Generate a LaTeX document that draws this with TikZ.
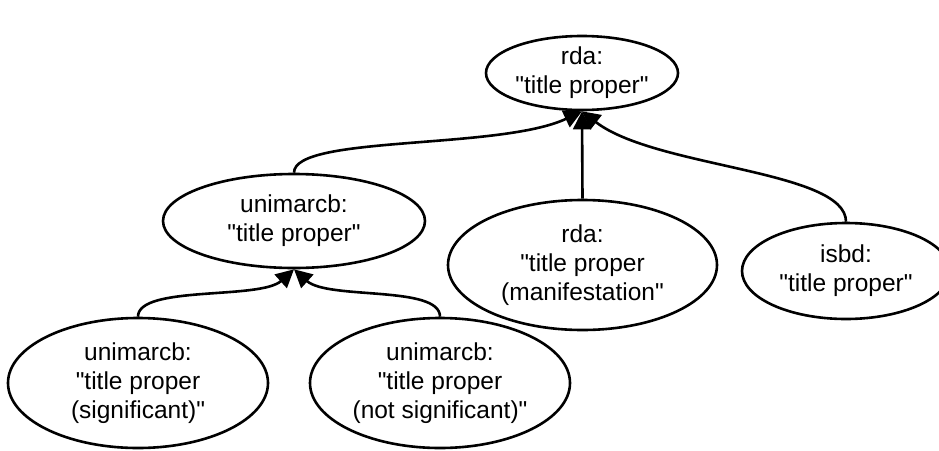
\documentclass[tikz,border=0pt]{standalone}
\usepackage{fontspec}
\setmainfont{Liberation Sans}
\usetikzlibrary{shapes.geometric,arrows.meta}
\newcommand\dq{\textquotedbl}
\begin{document}
\begin{tikzpicture}[x=1pt,y=-1pt,
  concept/.style={draw, ellipse, line width=2.6pt, inner sep=0pt, align=center,
    font=\fontsize{24.5}{29}\selectfont},
  link/.style={line width=2.6pt, -{Triangle[length=18pt,width=18pt]}}]
  \useasboundingbox (0,0) rectangle (939,450);
  \clip (0,0) rectangle (939,450);

  % concept nodes
  \node[concept, minimum width=192pt, minimum height=74pt] (top) at (582,73)
    {rda:\\\dq title proper\dq};
  \node[concept, minimum width=262pt, minimum height=94pt] (mid) at (294,221)
    {unimarcb:\\\dq title proper\dq};
  \node[concept, minimum width=269pt, minimum height=130pt] (manif) at (582.5,265)
    {rda:\\\dq title proper\\(manifestation\dq};
  \node[concept, minimum width=208pt, minimum height=96pt] (isbd) at (846,271)
    {isbd:\\\dq title proper\dq};
  \node[concept, minimum width=260pt, minimum height=130pt] (sig) at (138,383)
    {unimarcb:\\\dq title proper\\(significant)\dq};
  \node[concept, minimum width=260pt, minimum height=130pt] (nsig) at (440,383)
    {unimarcb:\\\dq title proper\\(not significant)\dq};

  % links to the parent concepts
  \draw[link] (mid.north) .. controls (294,135) and (500,150) .. (top.south);
  \draw[link] (manif.north) -- (top.south);
  \draw[link] (isbd.north) .. controls (846,170) and (655,168) .. (top.south);
  \draw[link] (sig.north) .. controls (138,285) and (260,300) .. (mid.south);
  \draw[link] (nsig.north) .. controls (440,285) and (328,300) .. (mid.south);
\end{tikzpicture}
\end{document}
